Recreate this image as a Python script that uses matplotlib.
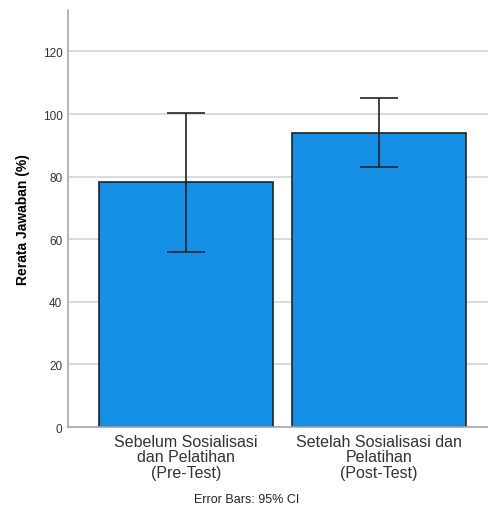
import matplotlib.pyplot as plt
import numpy as np

plt.rcParams['font.family'] = ['Liberation Sans', 'DejaVu Sans']

categories = ['Sebelum Sosialisasi\ndan Pelatihan\n(Pre-Test)',
              'Setelah Sosialisasi dan\nPelatihan\n(Post-Test)']
means = [78.2, 94.0]
ci_low = [55.9, 83.0]
ci_high = [100.3, 105.1]
yticks = [0, 20, 40, 60, 80, 100, 120]

fig = plt.figure(figsize=(4.88, 5.06), dpi=100)
ax = fig.add_axes([0.1393, 0.154, 0.8607, 0.824])

x = np.arange(len(categories))
means_a = np.array(means)
yerr = [means_a - np.array(ci_low), np.array(ci_high) - means_a]

ax.bar(x, means, width=0.9, color='#1390e6', edgecolor='#222222', linewidth=1.2, zorder=2)
ax.errorbar(x, means, yerr=yerr, fmt='none', ecolor='#222222', elinewidth=1.2,
            capsize=14, capthick=1.2, zorder=3)

ax.set_xlim(-0.611, 1.565)
ax.set_ylim(0, 133.2)
ax.set_yticks(yticks)
ax.set_xticks(x)
ax.set_xticklabels(categories, fontsize=11.5, color='#333333', linespacing=1.02)
ax.tick_params(axis='y', length=0, labelsize=8.5, labelcolor='#333333', pad=4)
ax.tick_params(axis='x', length=0, pad=5)
ax.yaxis.grid(True, color='#d4d4d4', linewidth=1.2, zorder=0)
ax.set_axisbelow(True)

for s in ['top', 'right']:
    ax.spines[s].set_visible(False)
ax.spines['left'].set_color('#a8a8a8')
ax.spines['bottom'].set_color('#a8a8a8')
ax.spines['left'].set_linewidth(1.2)
ax.spines['bottom'].set_linewidth(1.2)

ax.set_ylabel('Rerata Jawaban (%)', fontsize=10, fontweight='bold', labelpad=9)

fig.text(0.505, 0.0, 'Error Bars: 95% CI', fontsize=9, ha='center', va='bottom',
         color='#222222')

plt.savefig('out.png', dpi=100)
